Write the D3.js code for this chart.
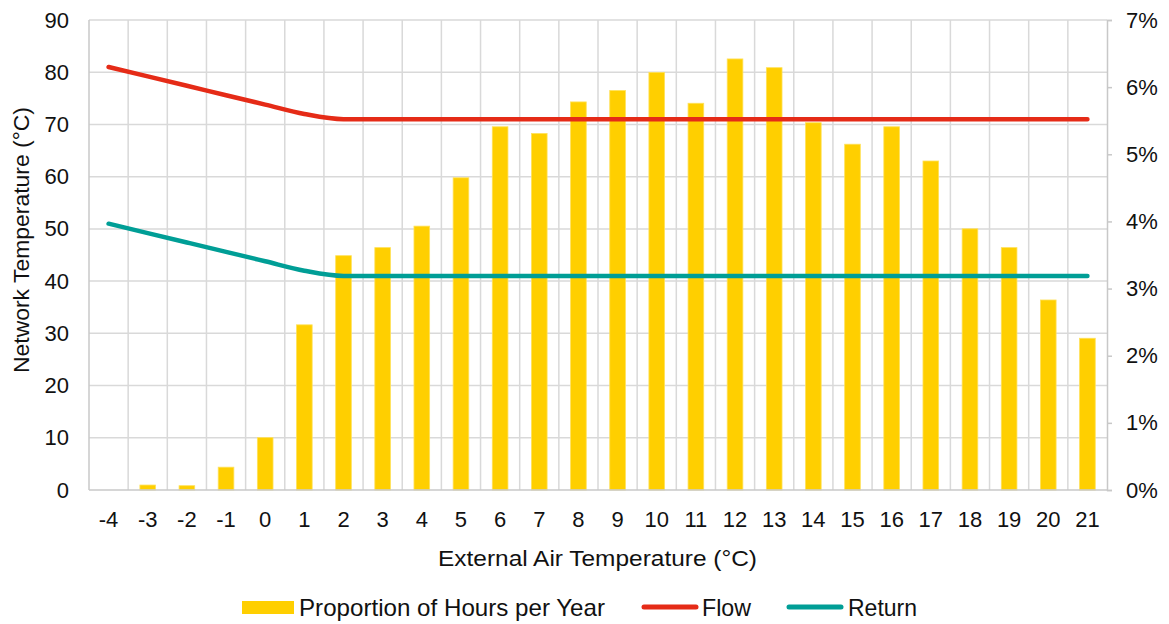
<!DOCTYPE html>
<html>
<head>
<meta charset="utf-8">
<script src="https://cdn.jsdelivr.net/npm/d3@7"></script>
<style>
  body { margin: 0; background: #fff; }
  svg text { font-family: "Liberation Sans", Arial, sans-serif; fill: #111; }
</style>
</head>
<body>
<svg id="chart" width="1169" height="624"></svg>
<script>
// data
let categories = [-4, -3, -2, -1, 0, 1, 2, 3, 4, 5, 6, 7, 8, 9, 10, 11, 12, 13, 14, 15, 16, 17, 18, 19, 20, 21];
let hoursShare = [0, 0.074, 0.064, 0.34, 0.78, 2.46, 3.49, 3.61, 3.93, 4.65, 5.41, 5.31, 5.78, 5.95, 6.22, 5.76, 6.42, 6.29, 5.47, 5.15, 5.41, 4.90, 3.89, 3.61, 2.83, 2.26];
let flowTemp = [81, 79.2, 77.4, 75.6, 73.8, 72, 71, 71, 71, 71, 71, 71, 71, 71, 71, 71, 71, 71, 71, 71, 71, 71, 71, 71, 71, 71];
let returnTemp = [51, 49.2, 47.4, 45.6, 43.8, 42, 41, 41, 41, 41, 41, 41, 41, 41, 41, 41, 41, 41, 41, 41, 41, 41, 41, 41, 41, 41];
let leftTicks = [0, 10, 20, 30, 40, 50, 60, 70, 80, 90];
let rightTicks = [0, 1, 2, 3, 4, 5, 6, 7];

let plotL = 89, plotR = 1107, plotT = 20, plotB = 490;
let svg = d3.select('#chart');
let fontSize = 22;
let fontFam = '"Liberation Sans", Arial, sans-serif';

let x = d3.scaleBand().domain(categories).range([plotL, plotR]).paddingInner(0).paddingOuter(0);
let yL = d3.scaleLinear().domain([0, 90]).range([plotB, plotT]);
let yR = d3.scaleLinear().domain([0, 7]).range([plotB, plotT]);

// gridlines
let grid = svg.append('g');
grid.selectAll('line.h')
    .data(leftTicks.slice(1))
    .enter()
    .append('line')
    .attr('x1', plotL).attr('x2', plotR)
    .attr('y1', d => yL(d)).attr('y2', d => yL(d))
    .attr('stroke', '#d9d9d9').attr('stroke-width', 1.5);
grid.selectAll('line.v')
    .data(categories.slice(1))
    .enter()
    .append('line')
    .attr('x1', d => x(d)).attr('x2', d => x(d))
    .attr('y1', plotT).attr('y2', plotB)
    .attr('stroke', '#d9d9d9').attr('stroke-width', 1.5);

// bars
let barW = x.bandwidth() * 0.4;
svg.append('g')
    .selectAll('rect')
    .data(categories.map((c, i) => ({ c: c, v: hoursShare[i] })))
    .enter()
    .append('rect')
    .attr('x', d => x(d.c) + (x.bandwidth() - barW) / 2)
    .attr('y', d => yR(d.v))
    .attr('width', barW)
    .attr('height', d => plotB - yR(d.v))
    .attr('fill', '#ffcf00')
    .attr('stroke', d => d.v > 0 ? '#ffe15a' : 'none')
    .attr('stroke-width', 0.8);

// axes lines
let axisCol = '#c8c8c8';
svg.append('line').attr('x1', plotL).attr('x2', plotL).attr('y1', plotT).attr('y2', plotB)
    .attr('stroke', axisCol).attr('stroke-width', 1.5);
svg.append('line').attr('x1', plotL).attr('x2', plotR).attr('y1', plotB).attr('y2', plotB)
    .attr('stroke', axisCol).attr('stroke-width', 1.5);

let rightAxis = d3.axisRight(yR).tickValues(rightTicks).tickSize(5).tickPadding(14)
    .tickFormat(d => d + '%');
let gR = svg.append('g').attr('transform', `translate(${plotR},0)`).call(rightAxis);
gR.select('.domain').attr('stroke', axisCol).attr('stroke-width', 1.5);
gR.selectAll('.tick line').attr('stroke', axisCol).attr('stroke-width', 1.5);
gR.selectAll('.tick text').style('font-size', fontSize + 'px').attr('fill', '#111')
    .attr('font-family', fontFam);

let leftAxis = d3.axisLeft(yL).tickValues(leftTicks).tickSize(0).tickPadding(20);
let gL = svg.append('g').attr('transform', `translate(${plotL},0)`).call(leftAxis);
gL.select('.domain').remove();
gL.selectAll('.tick text').style('font-size', fontSize + 'px').attr('fill', '#111')
    .attr('font-family', fontFam);

let bottomAxis = d3.axisBottom(x).tickSize(0).tickPadding(21);
let gB = svg.append('g').attr('transform', `translate(0,${plotB})`).call(bottomAxis);
gB.select('.domain').remove();
gB.selectAll('.tick text').style('font-size', fontSize + 'px').attr('fill', '#111')
    .attr('font-family', fontFam);

// lines
let line = d3.line()
    .x((d, i) => x(categories[i]) + x.bandwidth() / 2)
    .y(d => yL(d))
    .curve(d3.curveMonotoneX);

svg.append('path').datum(returnTemp).attr('d', line)
    .attr('fill', 'none').attr('stroke', '#009e96').attr('stroke-width', 4.5)
    .attr('stroke-linecap', 'round');
svg.append('path').datum(flowTemp).attr('d', line)
    .attr('fill', 'none').attr('stroke', '#e52b17').attr('stroke-width', 4.5)
    .attr('stroke-linecap', 'round');

// titles
svg.append('text')
    .attr('transform', 'translate(29,240) rotate(-90)')
    .attr('text-anchor', 'middle')
    .attr('textLength', 266)
    .attr('lengthAdjust', 'spacingAndGlyphs')
    .style('font-size', '22px')
    .text('Network Temperature (°C)');

svg.append('text')
    .attr('x', 597.5)
    .attr('y', 566)
    .attr('text-anchor', 'middle')
    .attr('textLength', 319)
    .attr('lengthAdjust', 'spacingAndGlyphs')
    .style('font-size', '22px')
    .text('External Air Temperature (°C)');

// legend
let lg = svg.append('g').style('font-size', '24px');
lg.append('rect').attr('x', 242).attr('y', 601).attr('width', 52).attr('height', 13).attr('fill', '#ffcf00');
lg.append('text').attr('x', 299).attr('y', 616).attr('textLength', 306)
    .attr('lengthAdjust', 'spacingAndGlyphs').text('Proportion of Hours per Year');
lg.append('line').attr('x1', 644).attr('x2', 696).attr('y1', 607).attr('y2', 607)
    .attr('stroke', '#e52b17').attr('stroke-width', 5).attr('stroke-linecap', 'round');
lg.append('text').attr('x', 702).attr('y', 616).attr('textLength', 49)
    .attr('lengthAdjust', 'spacingAndGlyphs').text('Flow');
lg.append('line').attr('x1', 789).attr('x2', 841).attr('y1', 607).attr('y2', 607)
    .attr('stroke', '#009e96').attr('stroke-width', 5).attr('stroke-linecap', 'round');
lg.append('text').attr('x', 848).attr('y', 616).attr('textLength', 69)
    .attr('lengthAdjust', 'spacingAndGlyphs').text('Return');
</script>
</body>
</html>
